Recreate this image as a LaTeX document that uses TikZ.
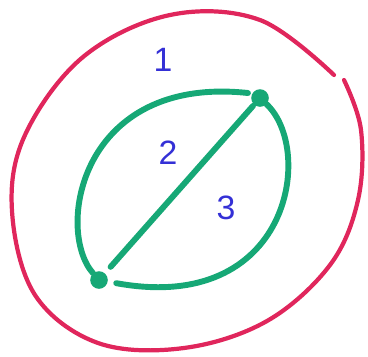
\documentclass[tikz,border=0pt]{standalone}
\usepackage{fontspec}
\setmainfont{Liberation Sans}
\definecolor{penred}{RGB}{224,38,92}
\definecolor{pengreen}{RGB}{22,168,118}
\definecolor{penblue}{RGB}{52,48,214}
\begin{document}
\begin{tikzpicture}[
  x=0.025cm,y=-0.025cm,
  every node/.style={font=\fontsize{24}{24}\selectfont},
  edge/.style={draw=pengreen,line width=4.2pt,line cap=round},
  vert/.style={circle,fill=pengreen,inner sep=0pt,minimum size=0.44cm},
  face/.style={text=penblue,inner sep=0pt}]
  \useasboundingbox (0,0) rectangle (368,356);
  % outer curve, with the small break at the upper right
  \draw[penred,line width=3pt,line cap=round] plot[smooth,tension=0.6] coordinates {
    (344,80) (361,130) (358,200) (330,265) (267,321) (184,348) (98,343)
    (35,295) (12,211) (25,135) (83,57) (170,15) (260,20) (334,75)};
  % the two vertices
  \node[vert] (vA) at (260,98) {};
  \node[vert] (vB) at (99,280) {};
  % three edges between them
  \draw[edge,shorten <=3pt] (vA.150) .. controls (80,75) and (55,230) .. (vB);
  \draw[edge,shorten <=1pt,shorten >=6pt] (vA) -- (vB);
  \draw[edge,shorten >=6pt] (vA) .. controls (315,150) and (290,315) .. (vB);
  % face labels
  \node[face] (f1) at (163,60) {1};
  \node[face] (f2) at (168,153) {2};
  \node[face] (f3) at (226,208) {3};
\end{tikzpicture}
\end{document}
